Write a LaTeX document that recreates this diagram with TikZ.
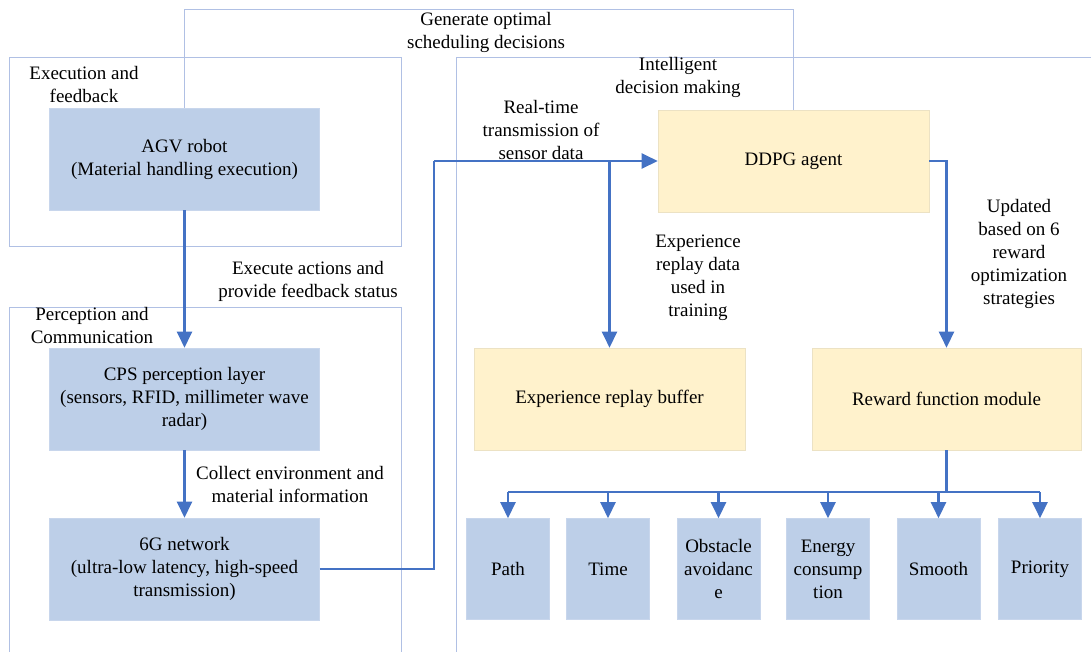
\documentclass[tikz,border=0pt]{standalone}
\usepackage{fontspec}
\setmainfont{Liberation Serif}
\usetikzlibrary{arrows.meta}

\definecolor{boxblue}{RGB}{189,207,232}
\definecolor{boxblueline}{RGB}{200,214,236}
\definecolor{boxyellow}{RGB}{255,242,204}
\definecolor{boxyellowline}{RGB}{236,226,196}
\definecolor{flowblue}{RGB}{68,114,196}
\definecolor{framecol}{RGB}{176,192,228}

\begin{document}
\begin{tikzpicture}[x=1pt,y=-1pt,
  every node/.style={font=\fontsize{19}{23}\selectfont, align=center, inner sep=0pt},
  bluebox/.style={draw=boxblueline, fill=boxblue, line width=0.6pt},
  yellowbox/.style={draw=boxyellowline, fill=boxyellow, line width=0.6pt},
  widebox/.style={minimum width=270pt, minimum height=102pt},
  smallbox/.style={bluebox, minimum width=83pt, minimum height=101pt},
  frameline/.style={draw=framecol, line width=1pt},
  flowline/.style={draw=flowblue, line width=2.4pt},
  flow/.style={flowline, -{Triangle[length=16pt,width=15pt]}},
]
\useasboundingbox (0,0) rectangle (1091,651);

% group frames
\draw[frameline] (9,57) rectangle (401,246);
\draw[frameline] (9,655) -- (9,307) -- (401,307) -- (401,655);
\draw[frameline] (1095,57) -- (456,57) -- (456,655);

\node (lblexec) at (84,84) {Execution and\\feedback};
\node (lblperc) at (92,325) {Perception and\\Communication};
\node (lbldec) at (678,77.5) {Intelligent\\decision making};

% left column
\node[bluebox, widebox] (agv) at (184.5,159) {AGV robot\\(Material handling execution)};
\node[bluebox, widebox] (cps) at (184.5,399) {CPS perception layer\\(sensors, RFID, millimeter wave\\radar)};
\node[bluebox, widebox] (net) at (184.5,569) {6G network\\(ultra-low latency, high-speed\\transmission)};

% decision part
\node[yellowbox, widebox, minimum width=271pt] (ddpg) at (793.5,161) {DDPG agent};
\node[yellowbox, widebox, minimum width=271pt] (buffer) at (609.5,399) {Experience replay buffer};
\node[yellowbox, widebox, minimum width=269pt] (reward) at (946.5,399) {Reward function module};

% reward components
\node[smallbox] (path) at (508,569) {Path};
\node[smallbox] (time) at (608,569) {Time};
\node[smallbox] (obst) at (718.5,569) {Obstacle\\avoidanc\\e};
\node[smallbox] (energy) at (828,569) {Energy\\consump\\tion};
\node[smallbox] (smooth) at (938.5,569) {Smooth};
\node[smallbox] (prio) at (1040,569) {Priority};

% connectors
\coordinate (topy) at (0,9);
\coordinate (bendx) at (434,0);
\coordinate (bus) at (0,492);

\draw[frameline] (agv.north) |- (topy -| ddpg.north) -- (ddpg.north);
\draw[flow] (agv.south) -- (cps.north);
\draw[flow] (cps.south) -- (net.north);
\draw[flowline] (net.east) -| (bendx |- ddpg.west);
\draw[flow] (bendx |- ddpg.west) -- (ddpg.west);
\draw[flow] (buffer.north |- ddpg.west) -- (buffer.north);
\draw[flow] (ddpg.east) -| (reward.north);
\draw[flowline] (reward.south) -- (reward.south |- bus);
\draw[flowline] (path.north |- bus) -- (prio.north |- bus);
\foreach \n in {path,time,obst,energy,smooth,prio}
  \draw[flow] (\n.north |- bus) -- (\n.north);

% connector labels
\node (lblgen) at (486,32.5) {Generate optimal\\scheduling decisions};
\node (lblact) at (308,281) {Execute actions and\\provide feedback status};
\node (lblcol) at (290,484.5) {Collect environment and\\material information};
\node (lblrt) at (541,130) {Real-time\\transmission of\\sensor data};
\node (lblexp) at (698,278) {Experience\\replay data\\used in\\training};
\node (lblupd) at (1019,254) {Updated\\based on 6\\reward\\optimization\\strategies};
\end{tikzpicture}
\end{document}
